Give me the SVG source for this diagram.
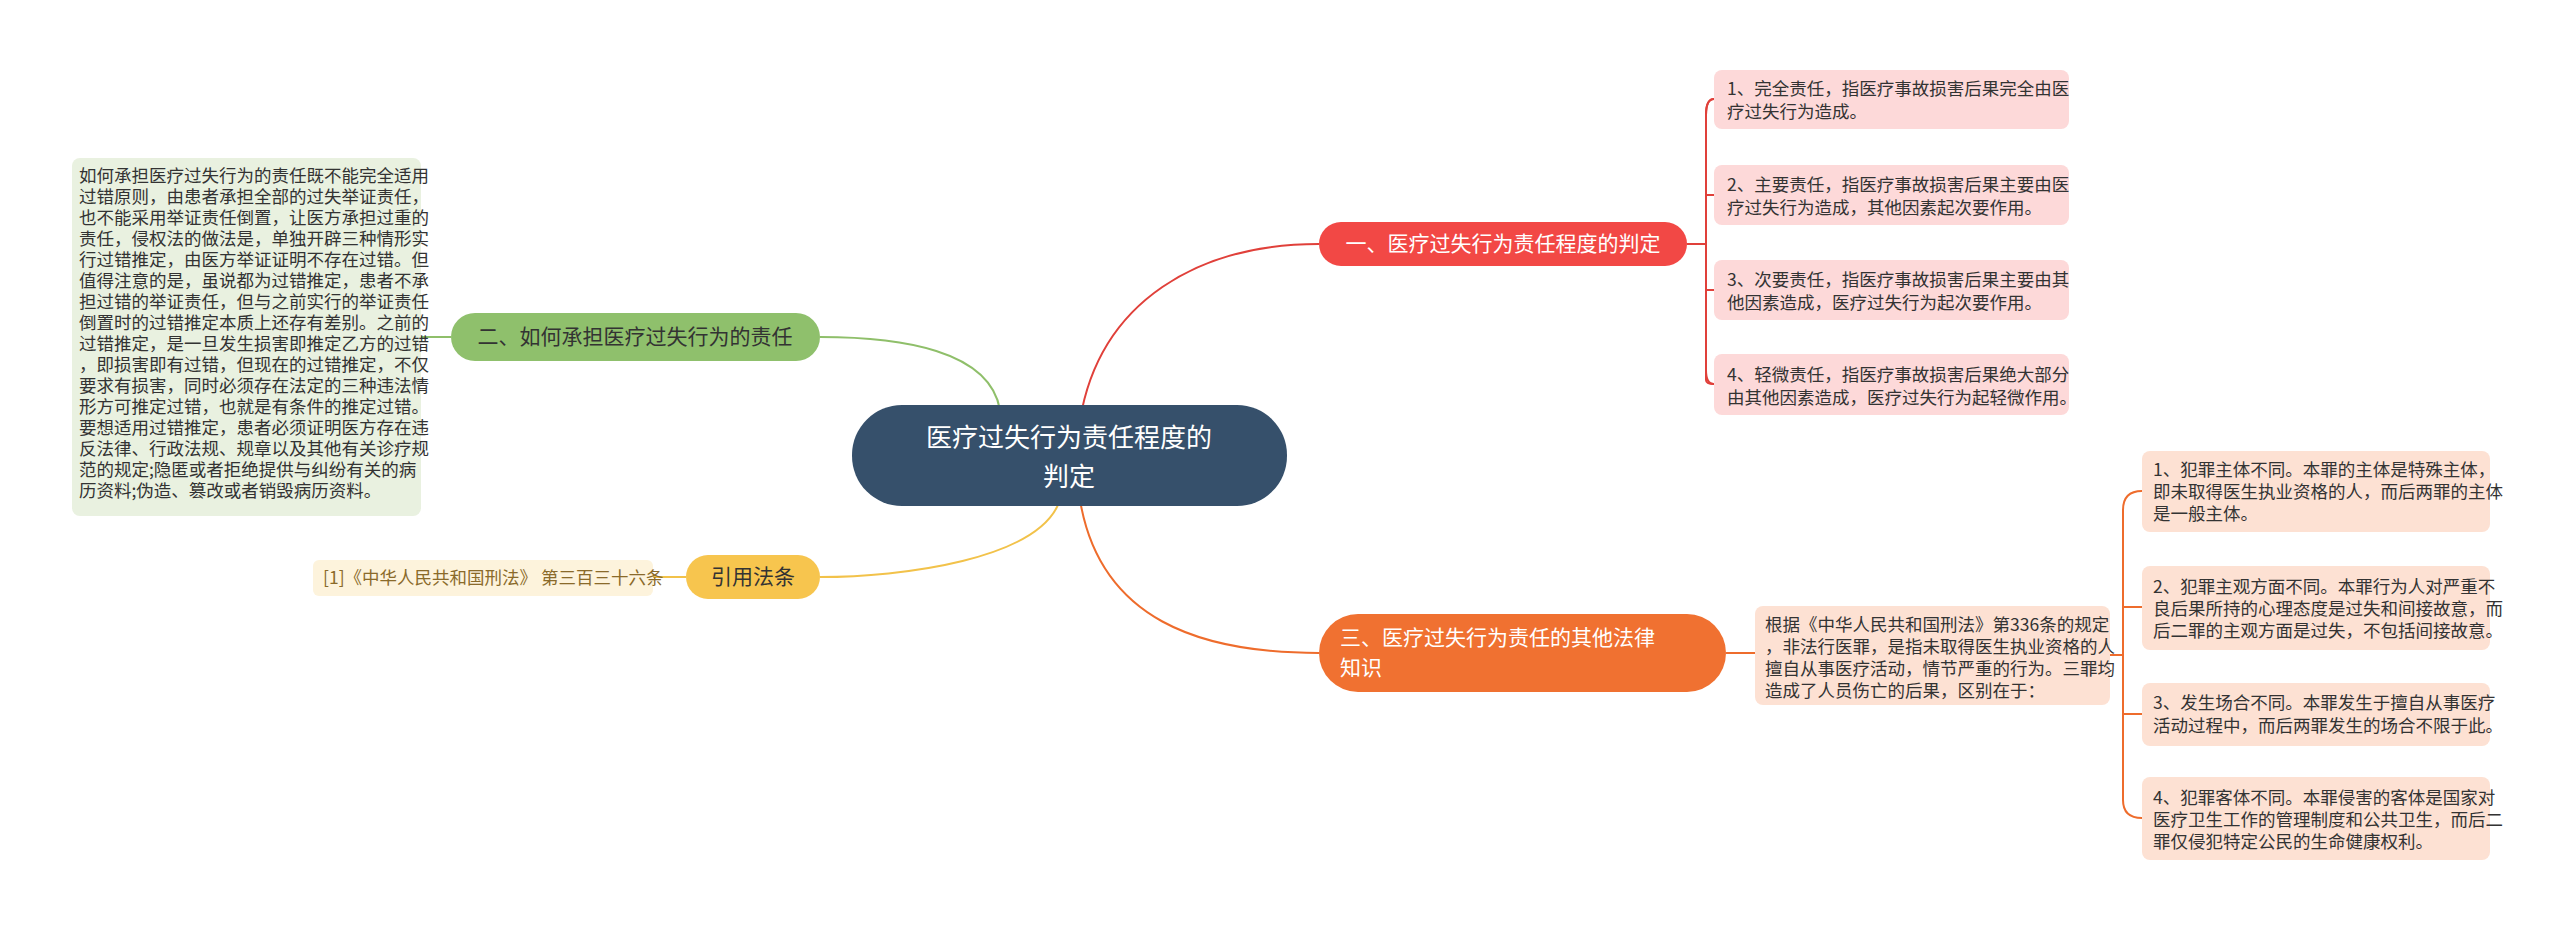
<svg xmlns="http://www.w3.org/2000/svg" width="2560" height="930" viewBox="0 0 2560 930">
<style>
text{font-family:"Noto Sans CJK SC","Noto Sans",sans-serif}
.l{font-size:17.5px;fill:#333}
.t{font-size:21px}
.c{fill:none;stroke-width:2}
</style>
<rect width="2560" height="930" fill="#fff"/>
<g id="connectors">
<path class="c" stroke="#e0403a" d="M1080 420 C1100 300 1200 244 1319 244"/>
<path class="c" stroke="#e0403a" d="M1687 244 H1706 M1714 99 Q1706 99 1706 115 V380 Q1706 384 1714 384 M1706 195 Q1706 195 1714 195 M1706 290 H1714"/>
<path class="c" stroke="#e0403a" d="M1714 99 Q1706 99 1706 115 M1706 370 Q1706 384 1714 384"/>
<path class="c" stroke="#8fbf6a" d="M1000 410 C990 350 900 337 820 337"/>
<path class="c" stroke="#8fbf6a" d="M451 337 H421"/>
<path class="c" stroke="#f2c24a" d="M1060 500 C1040 560 900 577 820 577"/>
<path class="c" stroke="#f2c24a" d="M686 577 H653"/>
<path class="c" stroke="#ee6c2c" d="M1080 500 C1100 620 1200 653 1319 653"/>
<path class="c" stroke="#ee6c2c" d="M1726 653 H1755 M2110 655 H2123 M2142 491 Q2123 491 2123 510 V800 Q2123 818 2142 818 M2123 607 Q2123 607 2142 607 M2123 714 H2142"/>
</g>
<g id="center"><rect x="852" y="405" width="435" height="101" rx="50" fill="#36506b"/>
<text x="1069" y="447" font-size="26" fill="#fff" text-anchor="middle">医疗过失行为责任程度的</text>
<text x="1069" y="486" font-size="26" fill="#fff" text-anchor="middle">判定</text></g>
<g id="n1"><rect x="1319" y="222" width="368" height="44" rx="22" fill="#f24845"/>
<text x="1503" y="251" class="t" fill="#fff" text-anchor="middle">一、医疗过失行为责任程度的判定</text></g>
<g id="n1a"><rect x="1714" y="70" width="355" height="59" rx="8" fill="#fdd9d9"/>
<text class="l"><tspan x="1727" y="95">1、完全责任，指医疗事故损害后果完全由医</tspan><tspan x="1727" y="118">疗过失行为造成。</tspan></text></g>
<g id="n1b"><rect x="1714" y="165" width="355" height="60" rx="8" fill="#fdd9d9"/>
<text class="l"><tspan x="1727" y="191">2、主要责任，指医疗事故损害后果主要由医</tspan><tspan x="1727" y="214">疗过失行为造成，其他因素起次要作用。</tspan></text></g>
<g id="n1c"><rect x="1714" y="260" width="355" height="60" rx="8" fill="#fdd9d9"/>
<text class="l"><tspan x="1727" y="286">3、次要责任，指医疗事故损害后果主要由其</tspan><tspan x="1727" y="309">他因素造成，医疗过失行为起次要作用。</tspan></text></g>
<g id="n1d"><rect x="1714" y="354" width="355" height="61" rx="8" fill="#fdd9d9"/>
<text class="l"><tspan x="1727" y="381">4、轻微责任，指医疗事故损害后果绝大部分</tspan><tspan x="1727" y="404">由其他因素造成，医疗过失行为起轻微作用。</tspan></text></g>
<g id="n2"><rect x="451" y="313" width="369" height="48" rx="24" fill="#8fc06c"/>
<text x="635" y="344" class="t" fill="#333" text-anchor="middle">二、如何承担医疗过失行为的责任</text></g>
<g id="n2a"><rect x="72" y="158" width="349" height="358" rx="8" fill="#e9f1e0"/>
<text class="l"><tspan x="79" y="182">如何承担医疗过失行为的责任既不能完全适用</tspan><tspan x="79" y="203">过错原则，由患者承担全部的过失举证责任，</tspan><tspan x="79" y="224">也不能采用举证责任倒置，让医方承担过重的</tspan><tspan x="79" y="245">责任，侵权法的做法是，单独开辟三种情形实</tspan><tspan x="79" y="266">行过错推定，由医方举证证明不存在过错。但</tspan><tspan x="79" y="287">值得注意的是，虽说都为过错推定，患者不承</tspan><tspan x="79" y="308">担过错的举证责任，但与之前实行的举证责任</tspan><tspan x="79" y="329">倒置时的过错推定本质上还存有差别。之前的</tspan><tspan x="79" y="350">过错推定，是一旦发生损害即推定乙方的过错</tspan><tspan x="79" y="371">，即损害即有过错，但现在的过错推定，不仅</tspan><tspan x="79" y="392">要求有损害，同时必须存在法定的三种违法情</tspan><tspan x="79" y="413">形方可推定过错，也就是有条件的推定过错。</tspan><tspan x="79" y="434">要想适用过错推定，患者必须证明医方存在违</tspan><tspan x="79" y="455">反法律、行政法规、规章以及其他有关诊疗规</tspan><tspan x="79" y="476">范的规定;隐匿或者拒绝提供与纠纷有关的病</tspan><tspan x="79" y="497">历资料;伪造、篡改或者销毁病历资料。</tspan></text></g>
<g id="n3"><rect x="686" y="555" width="134" height="44" rx="22" fill="#f7c54e"/>
<text x="753" y="584" class="t" fill="#333" text-anchor="middle">引用法条</text></g>
<g id="n3a"><rect x="313" y="560" width="340" height="36" rx="6" fill="#fdf3dc"/>
<text x="323" y="584" class="l" fill="#8a6a2a" style="fill:#8a6a2a">[1]《中华人民共和国刑法》 第三百三十六条</text></g>
<g id="n4"><rect x="1319" y="614" width="407" height="78" rx="39" fill="#f07131"/>
<text class="t" fill="#fff"><tspan x="1340" y="645">三、医疗过失行为责任的其他法律</tspan><tspan x="1340" y="675">知识</tspan></text></g>
<g id="n4m"><rect x="1755" y="606" width="355" height="99" rx="8" fill="#fde1d3"/>
<text class="l"><tspan x="1765" y="631">根据《中华人民共和国刑法》第336条的规定</tspan><tspan x="1765" y="653">，非法行医罪，是指未取得医生执业资格的人</tspan><tspan x="1765" y="675">擅自从事医疗活动，情节严重的行为。三罪均</tspan><tspan x="1765" y="697">造成了人员伤亡的后果，区别在于：</tspan></text></g>
<g id="n4a"><rect x="2142" y="451" width="348" height="81" rx="8" fill="#fde1d3"/>
<text class="l"><tspan x="2153" y="476">1、犯罪主体不同。本罪的主体是特殊主体，</tspan><tspan x="2153" y="498">即未取得医生执业资格的人，而后两罪的主体</tspan><tspan x="2153" y="520">是一般主体。</tspan></text></g>
<g id="n4b"><rect x="2142" y="566" width="348" height="84" rx="8" fill="#fde1d3"/>
<text class="l"><tspan x="2153" y="593">2、犯罪主观方面不同。本罪行为人对严重不</tspan><tspan x="2153" y="615">良后果所持的心理态度是过失和间接故意，而</tspan><tspan x="2153" y="637">后二罪的主观方面是过失，不包括间接故意。</tspan></text></g>
<g id="n4c"><rect x="2142" y="683" width="348" height="63" rx="8" fill="#fde1d3"/>
<text class="l"><tspan x="2153" y="709">3、发生场合不同。本罪发生于擅自从事医疗</tspan><tspan x="2153" y="732">活动过程中，而后两罪发生的场合不限于此。</tspan></text></g>
<g id="n4d"><rect x="2142" y="777" width="348" height="83" rx="8" fill="#fde1d3"/>
<text class="l"><tspan x="2153" y="804">4、犯罪客体不同。本罪侵害的客体是国家对</tspan><tspan x="2153" y="826">医疗卫生工作的管理制度和公共卫生，而后二</tspan><tspan x="2153" y="848">罪仅侵犯特定公民的生命健康权利。</tspan></text></g>
</svg>
